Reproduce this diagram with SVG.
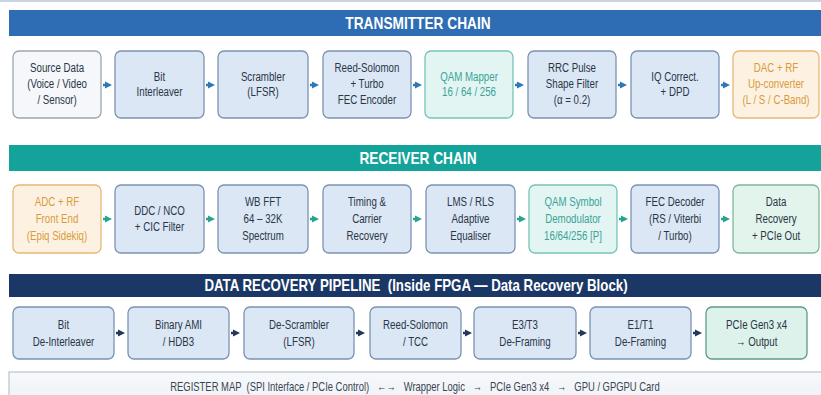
<svg xmlns="http://www.w3.org/2000/svg" width="821" height="395" viewBox="0 0 821 395">
<style>
.t,.h,.reg{transform-box:fill-box;transform-origin:center}
.t{font-family:"Liberation Sans",Arial,sans-serif;font-size:13.5px;fill:#2a3645;text-anchor:middle;transform:scaleX(0.72)}
.h{font-family:"Liberation Sans",Arial,sans-serif;font-weight:bold;font-size:16.5px;fill:#ffffff;text-anchor:middle;transform:scaleX(0.83)}
.blue{fill:#dbe7f5;stroke:#7a93b3;stroke-width:1.3}
.white{fill:#f5f7fa;stroke:#9ca6b0;stroke-width:1.3}
.teal{fill:#e2f5f3;stroke:#76c3b8;stroke-width:1.3}
.orange{fill:#fdf2e2;stroke:#e6b878;stroke-width:1.3}
.green{fill:#e3f4ec;stroke:#7fb79c;stroke-width:1.3}
.pg{fill:#dcf2ea;stroke:#5f9c84;stroke-width:1.3}
.tt{fill:#3aa397}
.to{fill:#d99a3a}
.c1{stroke:#2f78b8;stroke-width:2.5;fill:none}
.c2{stroke:#27a394;stroke-width:2.5;fill:none}
.c3{stroke:#22375a;stroke-width:2.5;fill:none}
.reg{font-family:"Liberation Sans",Arial,sans-serif;font-size:12.5px;fill:#3a4552;text-anchor:middle;white-space:pre;transform:scaleX(0.755)}
</style>
<defs>
<marker id="a1" viewBox="0 0 10 10" refX="2" refY="5" markerWidth="3" markerHeight="3.6" orient="auto" markerUnits="strokeWidth"><path d="M0,0 L10,5 L0,10 z" fill="#2f78b8"/></marker>
<marker id="a2" viewBox="0 0 10 10" refX="2" refY="5" markerWidth="3" markerHeight="3.6" orient="auto" markerUnits="strokeWidth"><path d="M0,0 L10,5 L0,10 z" fill="#27a394"/></marker>
<marker id="a3" viewBox="0 0 10 10" refX="2" refY="5" markerWidth="3" markerHeight="3.6" orient="auto" markerUnits="strokeWidth"><path d="M0,0 L10,5 L0,10 z" fill="#22375a"/></marker>
<linearGradient id="regbg" x1="0" y1="0" x2="0" y2="1"><stop offset="0" stop-color="#f7f9fb"/><stop offset="1" stop-color="#eef2f6"/></linearGradient>
</defs>
<rect x="0" y="0" width="821" height="395" fill="#ffffff"/>
<rect x="0" y="0" width="821" height="2" fill="#c9d5e1"/>

<g id="header-tx"><rect x="9" y="10" width="812" height="26" fill="#2e6db3"/><text class="h" x="418" y="29">TRANSMITTER CHAIN</text></g>
<g id="header-rx"><rect x="9" y="145" width="812" height="26" fill="#14a39a"/><text class="h" x="418" y="164">RECEIVER CHAIN</text></g>
<g id="header-dr"><rect x="9" y="274" width="812" height="23" fill="#1b3766"/><text class="h" x="416" y="291" style="font-size:16px;white-space:pre">DATA RECOVERY PIPELINE  (Inside FPGA — Data Recovery Block)</text></g>

<g id="tx1"><rect class="white" x="13" y="51" width="88" height="67" rx="6"/><text class="t" x="57" y="72">Source Data<tspan x="57" dy="16">(Voice / Video</tspan><tspan x="57" dy="16">/ Sensor)</tspan></text></g>
<g id="tx2"><rect class="blue" x="115" y="51" width="89" height="67" rx="6"/><text class="t" x="159.5" y="81">Bit<tspan x="159.5" dy="15">Interleaver</tspan></text></g>
<g id="tx3"><rect class="blue" x="218" y="51" width="90" height="67" rx="6"/><text class="t" x="263" y="81">Scrambler<tspan x="263" dy="15">(LFSR)</tspan></text></g>
<g id="tx4"><rect class="blue" x="323" y="51" width="88" height="67" rx="6"/><text class="t" x="367" y="72">Reed-Solomon<tspan x="367" dy="16">+ Turbo</tspan><tspan x="367" dy="16">FEC Encoder</tspan></text></g>
<g id="tx5"><rect class="teal" x="425" y="51" width="88" height="67" rx="6"/><text class="t tt" x="469" y="81">QAM Mapper<tspan x="469" dy="15">16 / 64 / 256</tspan></text></g>
<g id="tx6"><rect class="blue" x="528" y="51" width="88" height="67" rx="6"/><text class="t" x="572" y="72">RRC Pulse<tspan x="572" dy="16">Shape Filter</tspan><tspan x="572" dy="16">(α = 0.2)</tspan></text></g>
<g id="tx7"><rect class="blue" x="631" y="51" width="88" height="67" rx="6"/><text class="t" x="675" y="81">IQ Correct.<tspan x="675" dy="15">+ DPD</tspan></text></g>
<g id="tx8"><rect class="orange" x="733" y="51" width="86" height="67" rx="6"/><text class="t to" x="776" y="72">DAC + RF<tspan x="776" dy="16">Up-converter</tspan><tspan x="776" dy="16">(L / S / C-Band)</tspan></text></g>

<g id="rx1"><rect class="orange" x="13" y="185" width="88" height="68" rx="6"/><text class="t to" x="57" y="206">ADC + RF<tspan x="57" dy="17">Front End</tspan><tspan x="57" dy="17">(Epiq Sidekiq)</tspan></text></g>
<g id="rx2"><rect class="blue" x="115" y="185" width="89" height="68" rx="6"/><text class="t" x="159.5" y="215">DDC / NCO<tspan x="159.5" dy="16">+ CIC Filter</tspan></text></g>
<g id="rx3"><rect class="blue" x="218" y="185" width="90" height="68" rx="6"/><text class="t" x="263" y="206">WB FFT<tspan x="263" dy="17">64 – 32K</tspan><tspan x="263" dy="17">Spectrum</tspan></text></g>
<g id="rx4"><rect class="blue" x="323" y="185" width="88" height="68" rx="6"/><text class="t" x="367" y="206">Timing &amp;<tspan x="367" dy="17">Carrier</tspan><tspan x="367" dy="17">Recovery</tspan></text></g>
<g id="rx5"><rect class="blue" x="426" y="185" width="89" height="68" rx="6"/><text class="t" x="470.5" y="206">LMS / RLS<tspan x="470.5" dy="17">Adaptive</tspan><tspan x="470.5" dy="17">Equaliser</tspan></text></g>
<g id="rx6"><rect class="teal" x="529" y="185" width="88" height="68" rx="6"/><text class="t tt" x="573" y="206">QAM Symbol<tspan x="573" dy="17">Demodulator</tspan><tspan x="573" dy="17">16/64/256 [P]</tspan></text></g>
<g id="rx7"><rect class="blue" x="631" y="185" width="88" height="68" rx="6"/><text class="t" x="675" y="206">FEC Decoder<tspan x="675" dy="17">(RS / Viterbi</tspan><tspan x="675" dy="17">/ Turbo)</tspan></text></g>
<g id="rx8"><rect class="green" x="733" y="185" width="86" height="68" rx="6"/><text class="t" x="776" y="206">Data<tspan x="776" dy="17">Recovery</tspan><tspan x="776" dy="17">+ PCIe Out</tspan></text></g>

<g id="dr1"><rect class="blue" x="13" y="307" width="101" height="52" rx="6"/><text class="t" x="63.5" y="329">Bit<tspan x="63.5" dy="17">De-Interleaver</tspan></text></g>
<g id="dr2"><rect class="blue" x="128" y="307" width="101" height="52" rx="6"/><text class="t" x="178.5" y="329">Binary AMI<tspan x="178.5" dy="17">/ HDB3</tspan></text></g>
<g id="dr3"><rect class="blue" x="244" y="307" width="110" height="52" rx="6"/><text class="t" x="299" y="329">De-Scrambler<tspan x="299" dy="17">(LFSR)</tspan></text></g>
<g id="dr4"><rect class="blue" x="370" y="307" width="91" height="52" rx="6"/><text class="t" x="415.5" y="329">Reed-Solomon<tspan x="415.5" dy="17">/ TCC</tspan></text></g>
<g id="dr5"><rect class="blue" x="474" y="307" width="102" height="52" rx="6"/><text class="t" x="525" y="329">E3/T3<tspan x="525" dy="17">De-Framing</tspan></text></g>
<g id="dr6"><rect class="blue" x="590" y="307" width="101" height="52" rx="6"/><text class="t" x="640.5" y="329">E1/T1<tspan x="640.5" dy="17">De-Framing</tspan></text></g>
<g id="dr7"><rect class="pg" x="706" y="307" width="101" height="52" rx="6"/><text class="t" x="756.5" y="329">PCIe Gen3 x4<tspan x="756.5" dy="17">→ Output</tspan></text></g>

<g id="register"><rect x="9" y="372" width="814" height="30" fill="url(#regbg)" stroke="#b9c3cd" stroke-width="1.2"/><text class="reg" x="415" y="391">REGISTER MAP  (SPI Interface / PCIe Control)   ←→   Wrapper Logic   →   PCIe Gen3 x4   →   GPU / GPGPU Card</text></g>

<g id="connectors">
<path class="c1" marker-end="url(#a1)" d="M103,85 h3"/>
<path class="c1" marker-end="url(#a1)" d="M206,85 h3"/>
<path class="c1" marker-end="url(#a1)" d="M310,85 h3"/>
<path class="c1" marker-end="url(#a1)" d="M413,85 h3"/>
<path class="c1" marker-end="url(#a1)" d="M515,85 h3"/>
<path class="c1" marker-end="url(#a1)" d="M618,85 h3"/>
<path class="c1" marker-end="url(#a1)" d="M721,85 h3"/>
<path class="c2" marker-end="url(#a2)" d="M103,219 h3"/>
<path class="c2" marker-end="url(#a2)" d="M206,219 h3"/>
<path class="c2" marker-end="url(#a2)" d="M310,219 h3"/>
<path class="c2" marker-end="url(#a2)" d="M413,219 h3"/>
<path class="c2" marker-end="url(#a2)" d="M517,219 h3"/>
<path class="c2" marker-end="url(#a2)" d="M619,219 h3"/>
<path class="c2" marker-end="url(#a2)" d="M721,219 h3"/>
<path class="c3" marker-end="url(#a3)" d="M116,333 h3"/>
<path class="c3" marker-end="url(#a3)" d="M231,333 h3"/>
<path class="c3" marker-end="url(#a3)" d="M356,333 h3"/>
<path class="c3" marker-end="url(#a3)" d="M463,333 h3"/>
<path class="c3" marker-end="url(#a3)" d="M578,333 h3"/>
<path class="c3" marker-end="url(#a3)" d="M693,333 h3"/>
</g>
</svg>
